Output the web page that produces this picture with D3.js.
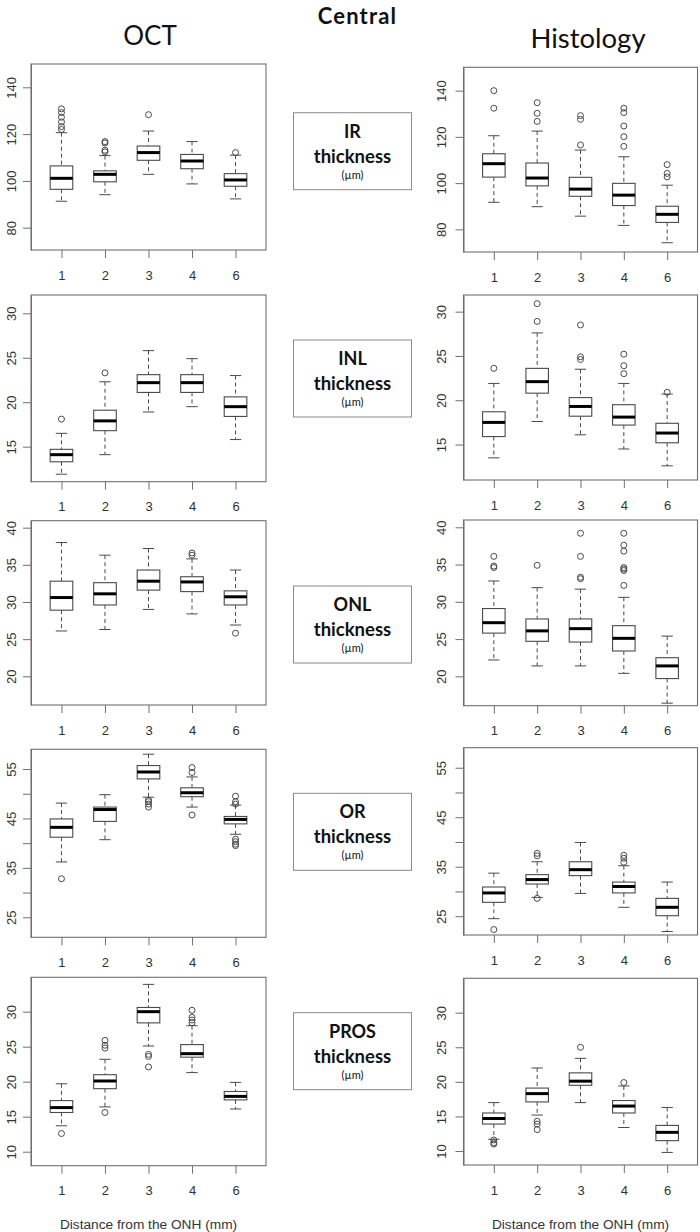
<!DOCTYPE html>
<html><head><meta charset="utf-8">
<script src="https://cdn.jsdelivr.net/npm/d3@7"></script>
<style>body{margin:0;background:#fff}svg{display:block}</style>
</head><body><div id="chart"></div>
<script>
// ---------- DATA ----------
const categories = ["1","2","3","4","6"];
const layers = ["IR","INL","ONL","OR","PROS"];
const methods = ["OCT","Histology"];
const xTitle = "Distance from the ONH (mm)";
const mainTitle = "Central";

// stats per box: [lowWhisker, Q1, median, Q3, highWhisker]
const irOct   = [[91.3,96.4,101.1,106.4,120.6],[94.1,99.6,102.8,104.3,110.8],[102.8,108.8,112.1,114.9,121.3],[98.7,105.2,108.5,111.3,116.8],[92.3,97.7,100.4,103.1,111.0]];
const irOctOut = [[130.8,129.2,127.2,125.2,123.2,122.0],[116.8,116.2,113.1,112.4],[128.3],[],[112.1]];
const irHist  = [[91.7,102.6,108.4,112.7,120.5],[89.8,98.8,102.2,108.7,122.5],[85.7,94.3,97.4,102.5,114.3],[81.7,90.3,94.8,99.9,111.4],[74.2,83.0,86.5,90.0,99.1]];
const irHistOut = [[140.0,132.4],[134.8,130.2,126.7],[129.2,127.6,116.5],[132.4,130.5,124.7,120.1,115.9],[108.0,104.2,102.7]];

const inlOct  = [[11.9,13.3,14.1,14.7,16.5],[14.1,16.8,17.9,19.1,22.3],[18.9,21.1,22.2,23.1,25.8],[19.5,21.1,22.2,23.1,24.9],[15.8,18.4,19.5,20.6,23.0]];
const inlOctOut = [[18.1],[23.3],[],[],[]];
const inlHist = [[13.5,15.9,17.5,18.7,21.9],[17.6,20.8,22.1,23.6,27.6],[16.1,18.2,19.3,20.3,23.5],[14.5,17.2,18.1,19.5,21.9],[12.6,15.2,16.3,17.4,20.7]];
const inlHistOut = [[23.6],[30.9,28.9],[28.5,24.9,24.6],[25.2,23.9,23.0],[20.9]];

const onlOct  = [[26.1,28.9,30.6,32.8,38.0],[26.3,29.6,31.1,32.6,36.3],[29.0,31.6,32.8,34.3,37.2],[28.4,31.4,32.7,33.4,35.8],[26.9,29.6,30.7,31.5,34.3]];
const onlOctOut = [[],[],[],[36.6,36.3],[25.8]];
const onlHist = [[22.2,25.8,27.2,29.1,32.8],[21.4,24.7,26.1,27.7,31.9],[21.4,24.6,26.4,27.7,31.7],[20.4,23.4,25.1,26.8,30.6],[16.4,19.7,21.4,22.5,25.4]];
const onlHistOut = [[36.1,34.8,34.6],[34.9],[39.2,36.1,33.3,33.1],[39.2,37.6,36.8,34.6,34.4,34.2,32.2],[]];

const orOct   = [[36.2,41.2,43.2,44.9,48.1],[40.7,44.4,46.8,47.3,49.8],[49.3,53.0,54.4,55.7,58.0],[47.3,49.4,50.2,51.2,53.4],[41.8,43.9,44.8,45.4,47.7]];
const orOctOut = [[32.8],[],[48.7,48.4,47.9,47.3],[55.3,54.3,45.7],[49.5,48.4,47.9,40.8,40.3,39.8,39.5]];
const orHist  = [[24.5,27.8,29.7,30.9,33.7],[28.8,31.5,32.4,33.4,36.0],[29.6,33.2,34.4,36.0,39.9],[26.8,29.7,31.0,31.9,35.2],[21.9,25.1,26.8,28.6,31.9]];
const orHistOut = [[22.3],[37.7,37.2,28.6],[],[37.3,36.7,35.9],[]];

const prosOct  = [[13.7,15.6,16.3,17.3,19.7],[16.4,19.0,20.1,21.0,23.2],[25.1,28.4,30.0,30.6,33.9],[21.3,23.5,24.0,25.3,28.0],[16.1,17.4,17.9,18.6,19.9]];
const prosOctOut = [[12.6],[25.9,25.2,24.8,15.6],[23.9,23.6,22.1],[30.2,29.2,28.8,28.4],[]];
const prosHist = [[11.7,13.9,14.7,15.5,17.0],[15.2,17.1,18.3,19.1,22.0],[17.0,19.5,20.1,21.3,23.4],[13.4,15.5,16.5,17.3,19.4],[9.8,11.5,12.7,13.7,16.3]];
const prosHistOut = [[11.6,11.2,11.0],[14.3,13.9,13.1],[25.0],[19.9],[]];

// y ticks per layer (labelled subset)
const yTicksIR = [80,100,120,140];
const yTicksINL = [15,20,25,30];
const yTicksONL = [20,25,30,35,40];
const yTicksOR = [25,30,35,40,45,50,55];
const yLabelsOR = [25,35,45,55];
const yTicksPROS = [10,15,20,25,30];

// ---------- LAYOUT ----------
const W = 700, H = 1232;
const colLeft = [31, 463.5], colRight = [266, 697.5];
const yLabelOffset = [19.5, 22.5];
const rowTop = [[64,295,520.7,749.3,977.3],[67.3,295,520,747.7,978.3]];
const rowBottom = [[250,481.7,705,937.3,1165.7],[252,480,705.7,935,1165]];
const yDomain = [
  [[70.46,149.96],[11.06,32.06],[16.14,40.94],[20.95,58.99],[8.0,34.91]],
  [[70.2,150.1],[11.0,31.88],[16.06,40.98],[21.2,59.05],[7.98,34.97]]
];
const labelBoxTop = [112.7,340,586,793.3,1012.7];
const labelBoxH = 77, labelBoxX = 293.5, labelBoxW = 118;

const panelData = [
  [[irOct,irOctOut],[irHist,irHistOut]],
  [[inlOct,inlOctOut],[inlHist,inlHistOut]],
  [[onlOct,onlOctOut],[onlHist,onlHistOut]],
  [[orOct,orOctOut],[orHist,orHistOut]],
  [[prosOct,prosOctOut],[prosHist,prosHistOut]]
];
const panelTicks = [[yTicksIR,yTicksIR],[yTicksINL,yTicksINL],[yTicksONL,yTicksONL],[yTicksOR,yLabelsOR],[yTicksPROS,yTicksPROS]];

const frameColor = "#6f6f6f", boxColor = "#4a4a4a", textColor = "#333";
const tickFont = "Liberation Sans, Arial, sans-serif";
const titleFont = "Lato, 'Open Sans', sans-serif";

const svg = d3.select("#chart").append("svg").attr("width", W).attr("height", H);

svg.append("text").attr("x", 357.5).attr("y", 24).attr("text-anchor","middle")
  .attr("font-family", titleFont).attr("font-weight","bold").attr("font-size", 22)
  .attr("letter-spacing", 1.2).attr("fill","#111").text(mainTitle);
svg.append("text").attr("x", 150).attr("y", 44.5).attr("text-anchor","middle")
  .attr("font-family", titleFont).attr("font-size", 26).attr("fill","#111").text(methods[0]);
svg.append("text").attr("x", 588).attr("y", 47.5).attr("text-anchor","middle")
  .attr("font-family", titleFont).attr("font-size", 27.5).attr("fill","#111").text(methods[1]);

layers.forEach((layer, r) => {
  [0,1].forEach(c => {
    const left = colLeft[c], right = colRight[c], top = rowTop[c][r], bottom = rowBottom[c][r];
    const x = d3.scaleLinear().domain([0.3, categories.length + 0.7]).range([left, right]);
    const y = d3.scaleLinear().domain(yDomain[c][r]).range([bottom, top]);
    const g = svg.append("g");
    const [stats, outs] = panelData[r][c];
    const bw = (x(1.26) - x(1)) * 2; // box width
    // y axis
    const ya = g.append("g").attr("transform", `translate(${left},0)`)
      .call(d3.axisLeft(y).tickValues(panelTicks[r][0]).tickSize(8).tickSizeOuter(0)
        .tickFormat(d => panelTicks[r][1].includes(d) ? d : ""));
    ya.select(".domain").attr("stroke", frameColor);
    ya.selectAll(".tick line").attr("stroke", frameColor);
    ya.selectAll(".tick text").attr("font-family", tickFont).attr("font-size", 13).attr("fill", textColor)
      .attr("x", null).attr("dy", null).attr("text-anchor","middle")
      .attr("transform", `translate(${-yLabelOffset[c]},0) rotate(-90)`).attr("dominant-baseline","central");
    // x axis
    const xa = g.append("g").attr("transform", `translate(0,${bottom})`)
      .call(d3.axisBottom(x).tickValues(d3.range(1, categories.length + 1)).tickSize(8).tickSizeOuter(0)
        .tickFormat(i => categories[i - 1]));
    xa.select(".domain").remove();
    xa.selectAll(".tick line").attr("stroke", frameColor);
    xa.selectAll(".tick text").attr("font-family", tickFont).attr("font-size", 13).attr("fill", textColor)
      .attr("y", 29.5).attr("dy", null);
    // frame
    g.append("rect").attr("x", left).attr("y", top).attr("width", right-left).attr("height", bottom-top)
      .attr("fill","none").attr("stroke", frameColor).attr("stroke-width", 1.1);
    // boxes
    stats.forEach((s, i) => {
      const cx = x(i + 1);
      const [lo, q1, med, q3, hi] = s;
      g.append("line").attr("x1", cx).attr("x2", cx).attr("y1", y(hi)).attr("y2", y(q3))
        .attr("stroke", boxColor).attr("stroke-dasharray","4,3");
      g.append("line").attr("x1", cx).attr("x2", cx).attr("y1", y(q1)).attr("y2", y(lo))
        .attr("stroke", boxColor).attr("stroke-dasharray","4,3");
      [lo, hi].forEach(v => g.append("line").attr("x1", cx - bw/4).attr("x2", cx + bw/4)
        .attr("y1", y(v)).attr("y2", y(v)).attr("stroke", boxColor));
      g.append("rect").attr("x", cx - bw/2).attr("width", bw).attr("y", y(q3)).attr("height", y(q1) - y(q3))
        .attr("fill","#fff").attr("stroke", boxColor).attr("stroke-width", 1.1);
      g.append("line").attr("x1", cx - bw/2).attr("x2", cx + bw/2).attr("y1", y(med)).attr("y2", y(med))
        .attr("stroke", "#000").attr("stroke-width", 3);
      outs[i].forEach(v => g.append("circle").attr("cx", cx).attr("cy", y(v)).attr("r", 3)
        .attr("fill","none").attr("stroke", boxColor).attr("stroke-width", 1));
    });
    if (r === layers.length - 1) {
      g.append("text").attr("x", (left + right) / 2).attr("y", 1229).attr("text-anchor","middle")
        .attr("font-family", tickFont).attr("font-size", 13.7).attr("fill", textColor).text(xTitle);
    }
  });
  // label box
  const ly = labelBoxTop[r];
  const lg = svg.append("g");
  lg.append("rect").attr("x", labelBoxX).attr("y", ly).attr("width", labelBoxW).attr("height", labelBoxH)
    .attr("fill","#fff").attr("stroke", "#8a8a8a").attr("stroke-width", 1);
  const cx = labelBoxX + labelBoxW / 2;
  lg.append("text").attr("x", cx).attr("y", ly + 25).attr("text-anchor","middle")
    .attr("font-family", titleFont).attr("font-weight","bold").attr("font-size", 18).attr("fill","#111").text(layer);
  lg.append("text").attr("x", cx).attr("y", ly + 50).attr("text-anchor","middle")
    .attr("font-family", titleFont).attr("font-weight","bold").attr("font-size", 18.5).attr("fill","#111").text("thickness");
  lg.append("text").attr("x", cx).attr("y", ly + 66).attr("text-anchor","middle")
    .attr("font-family", titleFont).attr("font-size", 11).attr("fill","#111").text("(µm)");
});
</script></body></html>
